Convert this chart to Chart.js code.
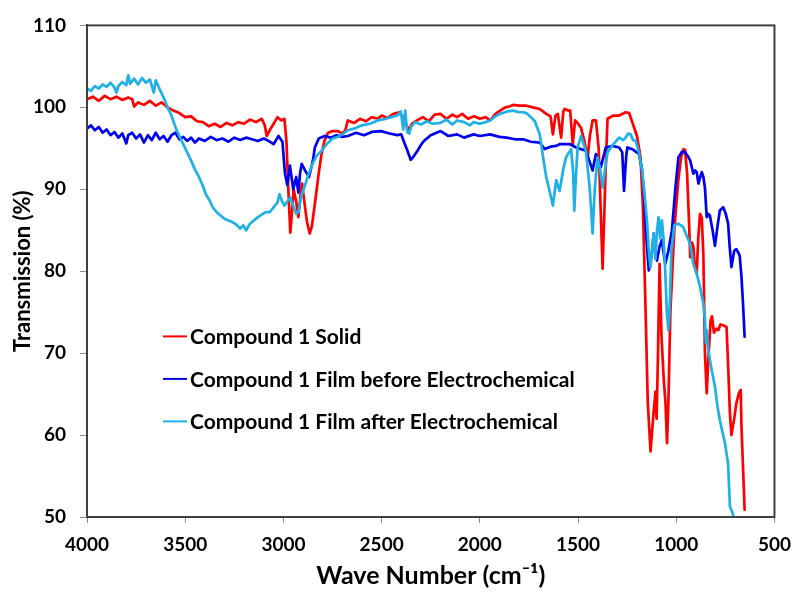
<!DOCTYPE html>
<html>
<head>
<meta charset="utf-8">
<script src="https://cdn.jsdelivr.net/npm/chart.js@4"></script>
<style>
  html, body { margin: 0; padding: 0; background: #fff; }
  #wrap { width: 801px; height: 592px; }
</style>
</head>
<body>
<div id="wrap"><canvas id="irChart" width="801" height="592"></canvas></div>
<script>
// IR spectra (wave number in cm-1, transmission in %)
const seriesLabels = [
  "Compound 1 Solid",
  "Compound 1 Film before Electrochemical",
  "Compound 1 Film after Electrochemical"
];

const solidWave = [4000,3970,3940,3910,3880,3850,3820,3790,3770,3760,3740,3710,3680,3650,3620,3590,3560,3530,3500,3470,3440,3410,3380,3350,3320,3290,3260,3230,3200,3170,3140,3110,3095,3085,3070,3050,3030,3010,2995,2985,2975,2965,2955,2948,2935,2924,2912,2905,2895,2880,2866,2855,2840,2820,2806,2790,2773,2750,2722,2700,2685,2672,2640,2610,2580,2550,2520,2500,2470,2440,2410,2390,2375,2360,2345,2320,2290,2260,2230,2200,2170,2140,2116,2090,2060,2030,2000,1970,1948,1920,1897,1870,1850,1830,1800,1763,1730,1695,1662,1640,1628,1615,1603,1586,1575,1569,1550,1540,1527,1515,1500,1485,1468,1451,1440,1426,1409,1395,1375,1360,1350,1320,1290,1258,1240,1224,1200,1182,1170,1157,1145,1131,1118,1106,1100,1093,1085,1075,1064,1055,1047,1040,1030,1010,990,975,963,955,945,935,929,920,913,905,896,888,879,870,862,854,845,835,825,818,808,795,786,775,761,744,735,727,719,705,694,680,672,668,660,652];
const solidValues = [101.0,101.3,100.8,101.4,101.0,101.3,100.9,101.2,101.0,100.1,100.6,100.3,100.8,100.2,100.6,100.0,99.6,99.3,98.8,98.9,98.3,98.2,97.7,98.0,97.6,98.1,97.8,98.2,98.0,98.5,98.2,98.6,97.8,96.5,97.2,98.0,98.8,98.4,98.6,96.0,90.0,84.7,87.5,90.0,88.5,86.6,89.5,90.7,88.8,86.0,84.6,85.5,88.2,92.0,94.3,96.0,96.9,97.1,97.1,96.8,97.2,98.4,98.1,98.6,98.3,98.8,98.6,99.0,98.7,99.2,99.4,98.7,97.8,97.3,98.0,98.4,98.8,98.3,99.1,99.2,98.6,99.1,98.8,99.2,98.6,98.9,98.6,98.8,98.4,99.2,99.6,100.0,100.1,100.3,100.2,100.2,100.0,99.8,99.2,98.9,96.7,99.0,99.2,96.3,99.5,99.8,99.6,99.6,95.5,98.4,98.0,97.5,95.9,93.9,96.5,98.4,98.4,95.0,80.3,92.0,98.6,99.0,99.0,99.4,99.3,98.2,96.5,93.9,88.0,76.0,64.0,58.0,62.0,65.3,62.0,70.0,80.9,72.0,66.9,64.0,59.0,64.0,75.0,85.0,91.0,94.0,94.9,94.8,92.0,86.0,81.7,83.5,83.0,80.5,79.7,84.0,87.0,86.5,82.0,70.0,65.1,70.0,74.0,74.5,72.5,73.0,72.8,73.5,73.4,73.2,68.0,62.7,60.0,62.0,63.9,65.2,65.5,61.0,56.0,50.9];

const beforeWave = [4000,3980,3960,3940,3920,3900,3880,3860,3840,3820,3800,3790,3770,3750,3730,3710,3690,3670,3650,3630,3610,3590,3570,3550,3530,3510,3490,3470,3450,3430,3400,3370,3340,3310,3280,3250,3220,3190,3160,3130,3100,3076,3050,3025,3005,2992,2980,2967,2950,2935,2924,2915,2907,2890,2870,2850,2840,2820,2790,2760,2730,2700,2672,2630,2590,2550,2503,2460,2420,2400,2385,2370,2352,2340,2320,2300,2285,2250,2200,2160,2116,2080,2032,2000,1948,1900,1864,1820,1780,1740,1695,1670,1640,1611,1594,1540,1510,1460,1426,1409,1384,1359,1325,1291,1275,1266,1255,1249,1224,1190,1175,1165,1155,1140,1125,1115,1105,1098,1085,1073,1063,1056,1040,1022,1005,989,970,955,940,929,913,904,896,887,878,870,862,854,845,837,829,815,803,790,778,761,748,736,728,719,705,694,685,677,668,660,652];
const beforeValues = [97.4,97.8,97.2,97.6,96.9,97.3,96.6,97.0,96.3,96.8,95.6,96.6,96.9,96.2,96.7,95.7,96.6,96.0,96.9,96.1,96.5,95.8,96.6,96.9,96.1,96.4,95.9,96.3,95.7,96.2,95.9,96.4,96.0,96.2,95.8,96.3,96.0,96.3,96.1,95.9,96.2,95.9,95.5,96.5,95.8,91.9,90.5,92.9,90.0,91.5,89.6,92.0,93.1,92.3,91.5,93.5,95.1,96.2,96.5,96.3,96.6,96.4,96.5,96.9,96.6,97.0,97.1,96.8,96.6,96.7,95.7,94.8,93.6,93.9,94.6,95.4,95.9,96.6,97.1,96.5,96.7,96.3,96.7,96.5,96.7,96.4,96.3,96.1,96.1,95.8,95.7,94.9,95.2,95.3,95.5,95.5,95.1,94.7,92.3,94.3,92.7,95.1,95.3,95.1,94.5,89.8,94.0,95.1,94.9,94.3,92.5,89.8,85.0,80.1,82.0,84.6,82.5,81.3,83.0,83.8,82.0,80.9,82.5,85.0,90.0,93.9,94.6,94.5,94.0,93.5,91.9,92.3,92.1,90.7,91.5,92.1,91.5,90.2,86.6,87.0,86.8,85.0,83.1,85.5,87.4,87.8,87.0,85.8,83.0,80.5,82.5,82.7,82.3,81.9,79.3,76.0,72.0];

const afterWave = [4000,3980,3960,3940,3920,3900,3880,3860,3850,3840,3820,3800,3790,3780,3760,3740,3720,3700,3680,3660,3650,3630,3610,3590,3570,3550,3530,3510,3490,3470,3450,3430,3410,3395,3375,3360,3340,3320,3300,3280,3260,3240,3220,3205,3190,3170,3150,3130,3110,3090,3070,3050,3030,3020,3010,2995,2980,2965,2950,2935,2924,2915,2907,2890,2870,2850,2830,2806,2780,2750,2722,2700,2672,2640,2600,2560,2520,2480,2450,2420,2402,2390,2380,2370,2360,2350,2330,2300,2270,2240,2200,2170,2140,2116,2080,2050,2032,2000,1970,1948,1920,1897,1860,1830,1800,1780,1763,1740,1720,1695,1678,1662,1645,1628,1611,1594,1575,1561,1535,1525,1519,1510,1502,1485,1460,1440,1426,1415,1401,1388,1375,1362,1350,1320,1291,1270,1258,1245,1232,1220,1207,1190,1174,1160,1148,1140,1131,1123,1115,1106,1098,1090,1082,1073,1065,1056,1048,1040,1032,1025,1010,990,965,950,929,913,896,879,862,854,849,845,837,820,803,790,778,752,736,727,718,710];
const afterValues = [102.3,102.0,102.6,102.3,102.8,102.5,103.0,102.4,101.8,102.6,103.1,102.7,103.9,102.9,103.5,102.8,103.6,103.0,103.4,101.8,103.3,102.2,101.2,100.0,99.0,97.6,96.5,95.5,94.5,93.5,92.4,91.5,90.4,89.4,88.6,87.8,87.2,86.8,86.4,86.2,86.0,85.7,85.2,85.6,85.0,85.8,86.2,86.6,86.9,87.2,87.2,87.8,88.4,89.4,88.7,88.0,88.5,89.0,88.0,87.0,87.2,88.5,89.3,90.5,92.0,93.2,94.1,94.7,95.5,96.2,96.4,96.7,97.2,97.4,97.8,98.0,98.4,98.6,98.8,99.0,99.5,97.3,99.6,97.0,96.8,97.6,98.2,97.9,98.3,98.0,98.1,98.5,97.9,98.4,98.2,97.8,98.2,98.0,98.2,98.4,98.9,99.2,99.5,99.6,99.4,99.4,99.3,98.8,98.3,96.7,93.9,91.5,89.8,88.0,91.1,89.8,92.5,93.9,94.9,92.0,87.4,92.0,95.1,96.5,94.7,90.0,84.6,90.0,93.9,92.5,90.2,92.5,94.5,95.5,96.3,96.0,96.3,96.8,96.7,96.0,95.9,94.5,92.3,89.0,85.8,82.5,80.5,82.5,84.6,81.5,85.0,86.6,84.0,86.2,84.0,80.0,75.0,72.8,76.4,82.5,85.6,85.8,85.4,84.5,83.3,80.9,79.7,78.1,76.0,74.0,71.2,72.8,70.4,68.0,65.9,63.5,61.8,59.0,56.5,51.3,50.8,50.2];

const xTicks = [4000, 3500, 3000, 2500, 2000, 1500, 1000, 500];
const yTicks = [50, 60, 70, 80, 90, 100, 110];
const colors = ["#ff0000", "#0000ee", "#1fb1e6"];

const FONT = "Lato, 'Open Sans', sans-serif";

function toPoints(waves, values) {
  return waves.map((w, i) => ({ x: w, y: values[i] }));
}

// box round the plot and the legend inside it
const frameAndLegend = {
  id: "frameAndLegend",
  afterDatasetsDraw(chart) {
    const { ctx, chartArea: a } = chart;
    ctx.save();
    ctx.strokeStyle = "#404040";
    ctx.lineWidth = 2;
    ctx.strokeRect(a.left, a.top, a.right - a.left, a.bottom - a.top);

    ctx.font = "bold 21px " + FONT;
    ctx.textBaseline = "middle";
    ctx.textAlign = "left";
    chart.data.datasets.forEach((ds, i) => {
      const y = a.top + 311 + i * 42.5;
      ctx.strokeStyle = ds.borderColor;
      ctx.lineWidth = 2;
      ctx.beginPath();
      ctx.moveTo(a.left + 76, y);
      ctx.lineTo(a.left + 100, y);
      ctx.stroke();
      ctx.fillStyle = "#000";
      ctx.fillText(ds.label, a.left + 103, y + 1);
    });
    ctx.restore();
  }
};

new Chart(document.getElementById("irChart"), {
  type: "line",
  data: {
    datasets: [
      { label: seriesLabels[0], data: toPoints(solidWave, solidValues), borderColor: colors[0], order: 3 },
      { label: seriesLabels[1], data: toPoints(beforeWave, beforeValues), borderColor: colors[1], order: 2 },
      { label: seriesLabels[2], data: toPoints(afterWave, afterValues), borderColor: colors[2], order: 1 }
    ]
  },
  options: {
    responsive: false,
    animation: false,
    layout: { padding: { left: 0, top: 24, right: 21, bottom: 0 } },
    elements: {
      point: { radius: 0 },
      line: { borderWidth: 2.7, tension: 0, borderJoinStyle: "round", borderCapStyle: "round" }
    },
    plugins: {
      legend: { display: false },
      tooltip: { enabled: false }
    },
    scales: {
      x: {
        type: "linear",
        reverse: true,
        min: 500,
        max: 4000,
        afterBuildTicks: s => { s.ticks = xTicks.map(v => ({ value: v })); },
        afterFit: s => { s.height = 75; },
        grid: { display: true, drawOnChartArea: false, drawTicks: true, tickLength: 6, color: "#8c8c8c" },
        border: { display: true, color: "#404040", width: 2 },
        ticks: {
          color: "#000", padding: 10, maxRotation: 0,
          callback: v => String(v),
          font: { family: FONT, size: 19, weight: "bold" }
        },
        title: {
          display: true,
          text: "Wave Number (cm⁻¹)",
          color: "#000",
          padding: { top: 0, bottom: 1 },
          font: { family: FONT, size: 25, weight: "bold" }
        }
      },
      y: {
        min: 50,
        max: 110,
        afterBuildTicks: s => { s.ticks = yTicks.map(v => ({ value: v })); },
        afterFit: s => { s.width = 87; },
        grid: { display: true, drawOnChartArea: false, drawTicks: true, tickLength: 7, color: "#8c8c8c" },
        border: { display: true, color: "#404040", width: 2 },
        ticks: {
          color: "#000", padding: 14,
          callback: v => String(v),
          font: { family: FONT, size: 19, weight: "bold" }
        },
        title: {
          display: true,
          text: "Transmission (%)",
          color: "#000",
          padding: { top: 10, bottom: 0 },
          font: { family: FONT, size: 22, weight: "bold" }
        }
      }
    }
  },
  plugins: [frameAndLegend]
});
</script>
</body>
</html>
